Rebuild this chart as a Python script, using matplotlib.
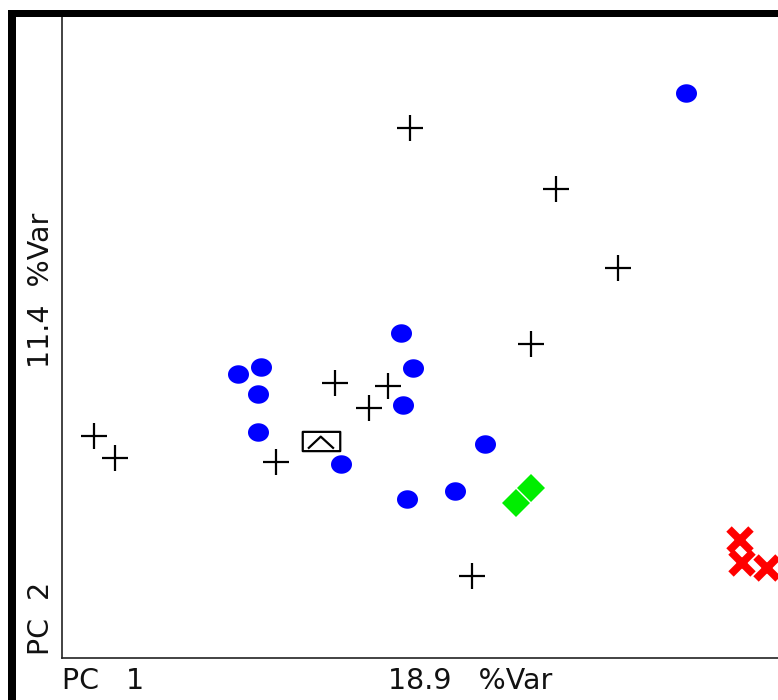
import numpy as np
import matplotlib
matplotlib.use("Agg")
import matplotlib.pyplot as plt
from matplotlib.path import Path
from matplotlib.patches import Rectangle

# Data (PC1, PC2 scores in plot units)
blue_x = [686, 401, 261, 238, 413, 258, 403, 258, 485, 341, 455, 407]
blue_y = [607, 367, 333, 326, 332, 306, 295, 268, 256, 236, 209, 201]

plus_x = [410, 556, 618, 531, 335, 388, 369, 94, 115, 276, 472]
plus_y = [572, 511, 432, 356, 317, 314, 292, 264, 242, 238, 124]

box_x = [321]
box_y = [259]

green_x = [516, 531]
green_y = [197, 212]

red_x = [740, 742, 767]
red_y = [160, 137, 132]

xlabel_left = "PC   1"
xlabel_mid = "18.9   %Var"
ylabel_left = "PC  2"
ylabel_mid = "11.4  %Var"

W, H = 778, 700
fig = plt.figure(figsize=(W / 100, H / 100), dpi=100)
fig.patch.set_facecolor("white")

ax = fig.add_axes([62 / W, (H - 658) / H, (W - 62) / W, (658 - 17) / H])
ax.set_xlim(62, 778)
ax.set_ylim(42, 683)
for s in ["top", "right"]:
    ax.spines[s].set_visible(False)
for s in ["left", "bottom"]:
    ax.spines[s].set_color("#222222")
    ax.spines[s].set_linewidth(1.2)
ax.set_xticks([])
ax.set_yticks([])

# ellipse marker
t = np.linspace(0, 2 * np.pi, 60)
ell = np.column_stack([np.cos(t) * 0.5, np.sin(t) * 0.5 * 0.88])
ax.scatter(blue_x, blue_y, marker=ell, s=(21 * 0.72) ** 2, color="#0000ff",
           linewidths=0, zorder=3)

ax.plot(plus_x, plus_y, linestyle="none", marker="+", ms=18.5, mew=1.6,
        color="black", zorder=3)

# box with caret marker
verts = [(-0.5, -0.257), (0.5, -0.257), (0.5, 0.257), (-0.5, 0.257), (-0.5, -0.257),
         (-0.36, -0.19), (-0.02, 0.13), (0.33, -0.19)]
codes = [Path.MOVETO, Path.LINETO, Path.LINETO, Path.LINETO, Path.CLOSEPOLY,
         Path.MOVETO, Path.LINETO, Path.LINETO]
boxpath = Path(verts, codes)
ax.plot(box_x, box_y, linestyle="none", marker=boxpath, ms=27, mew=1.6,
        mfc="none", mec="black", zorder=3)

ax.plot(green_x, green_y, linestyle="none", marker="D", ms=14.5, mew=0,
        color="#00ee00", zorder=3)

ax.plot(red_x, red_y, linestyle="none", marker="x", ms=16, mew=5.5,
        color="#ff0000", zorder=3)

# frame bands
fig.patches.append(Rectangle((8 / W, 0), 8 / W, (H - 10) / H, transform=fig.transFigure,
                             facecolor="black", edgecolor="none"))
fig.patches.append(Rectangle((8 / W, (H - 17) / H), 1, 7 / H, transform=fig.transFigure,
                             facecolor="black", edgecolor="none"))

fs = 20.5
fam = "DejaVu Sans"
fig.text(62 / W, (H - 689) / H, xlabel_left, fontsize=fs, ha="left", va="baseline",
         family=fam, color="#111111")
fig.text(388 / W, (H - 689) / H, xlabel_mid, fontsize=fs, ha="left", va="baseline",
         family=fam, color="#111111")
fig.text(49 / W, (H - 655) / H, ylabel_left, fontsize=fs, ha="left", va="baseline",
         rotation=90, rotation_mode="anchor", family=fam, color="#111111")
fig.text(49 / W, (H - 368) / H, ylabel_mid, fontsize=fs, ha="left", va="baseline",
         rotation=90, rotation_mode="anchor", family=fam, color="#111111")

fig.savefig("out.png", dpi=100)
